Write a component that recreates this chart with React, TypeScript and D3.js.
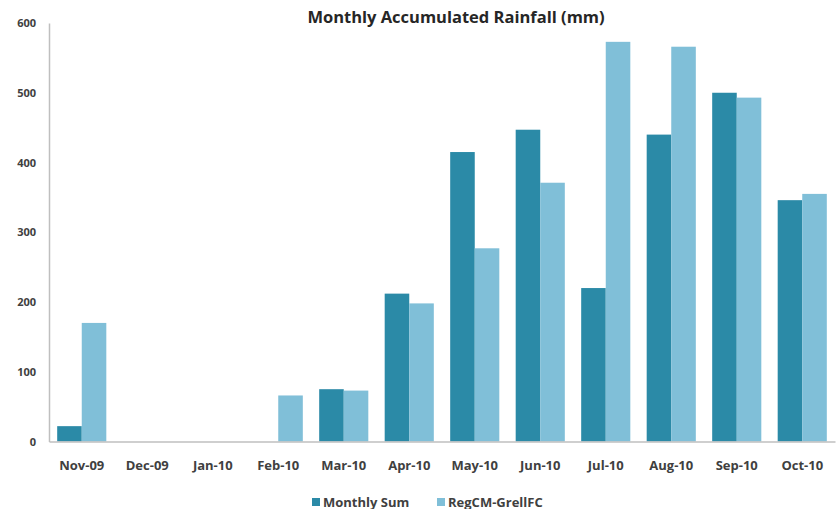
import { useEffect, useRef } from 'react';
import * as d3 from 'd3';

const months = ['Nov-09', 'Dec-09', 'Jan-10', 'Feb-10', 'Mar-10', 'Apr-10', 'May-10', 'Jun-10', 'Jul-10', 'Aug-10', 'Sep-10', 'Oct-10'];
const monthlySum = [22, 0, 0, 0, 75, 212, 415, 447, 220, 440, 500, 346];
const regcm = [170, 0, 0, 66, 73, 198, 277, 371, 573, 566, 493, 355];
const seriesNames = ['Monthly Sum', 'RegCM-GrellFC'];
const yTicks = [0, 100, 200, 300, 400, 500, 600];

const COLORS = ['#2b8aa7', '#80bfd8'];
const FONT = '"Open Sans", "Noto Sans", sans-serif';

export default function App() {
  const svgRef = useRef<SVGSVGElement>(null);
  const width = 839;
  const height = 509;

  useEffect(() => {
    if (!svgRef.current) return;
    const svg = d3.select(svgRef.current);
    svg.selectAll('*').remove();

    const left = 49;
    const right = 835;
    const bottom = 441.5;
    const top = 23;

    const x = d3.scaleBand<string>()
      .domain(months)
      .range([left, right])
      .paddingInner(0.25)
      .paddingOuter(0.125);

    const xInner = d3.scaleBand<string>()
      .domain(seriesNames)
      .range([0, x.bandwidth()]);

    const y = d3.scaleLinear().domain([0, 600]).range([bottom, top]);

    // title
    svg.append('text')
      .attr('x', 456)
      .attr('y', 23)
      .attr('text-anchor', 'middle')
      .attr('font-family', FONT)
      .attr('font-size', 16.5)
      .attr('font-weight', 'bold')
      .attr('fill', '#262626')
      .text('Monthly Accumulated Rainfall (mm)');

    // bars
    const rows = months.map((m, i) => ({ month: m, values: [monthlySum[i], regcm[i]] }));
    const groups = svg.append('g')
      .selectAll('g')
      .data(rows)
      .enter()
      .append('g')
      .attr('transform', d => `translate(${x(d.month)},0)`);

    groups.selectAll('rect')
      .data(d => d.values.map((v, k) => ({ name: seriesNames[k], value: v, k })))
      .enter()
      .append('rect')
      .attr('x', d => xInner(d.name) as number)
      .attr('width', xInner.bandwidth())
      .attr('y', d => y(d.value))
      .attr('height', d => bottom - y(d.value))
      .attr('fill', d => COLORS[d.k]);

    // y axis
    const yAxis = svg.append('g')
      .attr('transform', `translate(${left},0)`)
      .call(d3.axisLeft(y).tickValues(yTicks).tickSize(0).tickPadding(13));
    yAxis.select('.domain').attr('stroke', '#bfbfbf').attr('stroke-width', 1.5);
    yAxis.selectAll('text')
      .attr('font-family', FONT)
      .attr('font-size', 11)
      .attr('font-weight', 'bold')
      .attr('fill', '#404040');

    // x axis
    const xAxis = svg.append('g')
      .attr('transform', `translate(0,${bottom})`)
      .call(d3.axisBottom(x).tickSize(0).tickPadding(19));
    xAxis.select('.domain').attr('stroke', '#bfbfbf').attr('stroke-width', 1.5);
    xAxis.selectAll('text')
      .attr('font-family', FONT)
      .attr('font-size', 13)
      .attr('font-weight', 'bold')
      .attr('fill', '#404040');

    // legend
    const legendX = [312, 437];
    const legend = svg.append('g')
      .selectAll('g')
      .data(seriesNames)
      .enter()
      .append('g')
      .attr('transform', (_, i) => `translate(${legendX[i]},498)`);
    legend.append('rect')
      .attr('width', 8)
      .attr('height', 8)
      .attr('fill', (_, i) => COLORS[i]);
    legend.append('text')
      .attr('x', 11)
      .attr('y', 8.5)
      .attr('font-family', FONT)
      .attr('font-size', 13)
      .attr('font-weight', 'bold')
      .attr('fill', '#404040')
      .text(d => d);
  }, []);

  return (
    <svg
      ref={svgRef}
      width={width}
      height={height}
      style={{ position: 'absolute', left: 0, top: 0, background: '#fff' }}
    />
  );
}
